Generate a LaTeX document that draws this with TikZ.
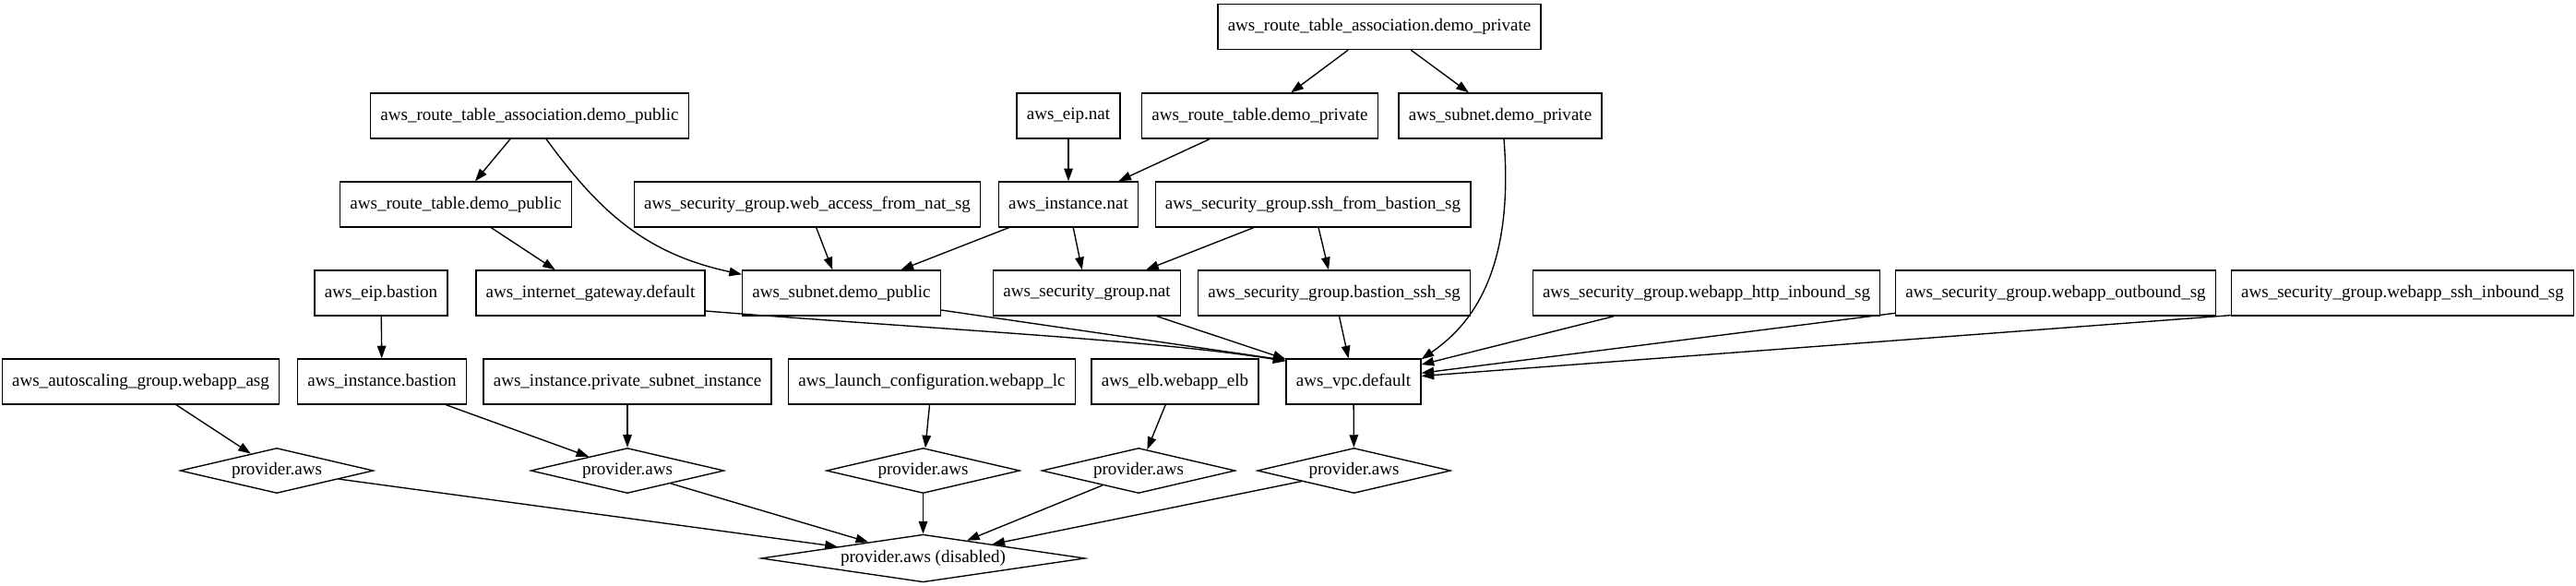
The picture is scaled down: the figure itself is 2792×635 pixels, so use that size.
\documentclass[tikz,border=0pt]{standalone}
\usepackage{fontspec}
\setmainfont{Liberation Serif}
\usetikzlibrary{shapes.geometric,arrows.meta,calc}
\begin{document}
\begin{tikzpicture}[x=0.735pt,y=0.735pt,
  box/.style={draw,line width=1pt,rectangle,minimum height=36pt,minimum width=54pt,inner xsep=7.92pt,inner ysep=0pt,font=\fontsize{14pt}{16pt}\selectfont},
  prov/.style={draw,line width=1pt,diamond,shape aspect=4.3,minimum width=154pt,minimum height=36pt,inner sep=0pt,font=\fontsize{14pt}{16pt}\selectfont},
  edge/.style={line width=1pt,-{Triangle[length=10pt,width=7pt]}}]
\useasboundingbox (0,0) rectangle (2792,-635);
% row 0
\node[box] (rta_priv) at (1495,-29) {aws\_route\_table\_association.demo\_private};
% row 1
\node[box] (rta_pub) at (574,-125.5) {aws\_route\_table\_association.demo\_public};
\node[box] (eip_nat) at (1158,-125.5) {aws\_eip.nat};
\node[box] (rt_priv) at (1365.5,-125.5) {aws\_route\_table.demo\_private};
\node[box] (subnet_priv) at (1626,-125.5) {aws\_subnet.demo\_private};
% row 2
\node[box] (rt_pub) at (494,-221.5) {aws\_route\_table.demo\_public};
\node[box] (web_access) at (875,-221.5) {aws\_security\_group.web\_access\_from\_nat\_sg};
\node[box] (inst_nat) at (1158,-221.5) {aws\_instance.nat};
\node[box] (ssh_from) at (1423,-221.5) {aws\_security\_group.ssh\_from\_bastion\_sg};
% row 3
\node[box] (eip_bastion) at (413,-317.5) {aws\_eip.bastion};
\node[box] (igw) at (640,-317.5) {aws\_internet\_gateway.default};
\node[box] (subnet_pub) at (912,-317.5) {aws\_subnet.demo\_public};
\node[box] (sg_nat) at (1178,-317.5) {aws\_security\_group.nat};
\node[box] (bastion_ssh) at (1446,-317.5) {aws\_security\_group.bastion\_ssh\_sg};
\node[box] (http_in) at (1849.5,-317.5) {aws\_security\_group.webapp\_http\_inbound\_sg};
\node[box] (outbound) at (2228,-317.5) {aws\_security\_group.webapp\_outbound\_sg};
\node[box] (ssh_in) at (2604,-317.5) {aws\_security\_group.webapp\_ssh\_inbound\_sg};
% row 4
\node[box] (asg) at (152.5,-413.5) {aws\_autoscaling\_group.webapp\_asg};
\node[box] (inst_bastion) at (414,-413.5) {aws\_instance.bastion};
\node[box] (private_inst) at (680,-413.5) {aws\_instance.private\_subnet\_instance};
\node[box] (lc) at (1010,-413.5) {aws\_launch\_configuration.webapp\_lc};
\node[box] (elb) at (1273.5,-413.5) {aws\_elb.webapp\_elb};
\node[box] (vpc) at (1467,-413.5) {aws\_vpc.default};
% row 5
\node[prov] (d1) at (300,-510) {provider.aws};
\node[prov] (d2) at (680,-510) {provider.aws};
\node[prov] (d3) at (1000.5,-510) {provider.aws};
\node[prov] (d4) at (1234,-510) {provider.aws};
\node[prov] (d5) at (1467.5,-510) {provider.aws};
% row 6
\node[prov,minimum width=258pt,minimum height=38pt,shape aspect=6.8] (dis) at (1000.5,-605) {provider.aws (disabled)};
% edges
\draw[edge] (rta_priv) -- (rt_priv);
\draw[edge] (rta_priv) -- (subnet_priv);
\draw[edge] (rta_pub) -- (rt_pub);
\draw[edge] ($(rta_pub.south)+(18,0)$) .. controls (650,-230) and (700,-275) .. ($(subnet_pub.north west)+(0,-5)$);
\draw[edge] (eip_nat) -- (inst_nat);
\draw[edge] (rt_priv) -- (inst_nat);
\draw[edge] (rt_pub) -- (igw);
\draw[edge] (web_access) -- (subnet_pub);
\draw[edge] (inst_nat) -- (subnet_pub);
\draw[edge] (inst_nat) -- (sg_nat);
\draw[edge] (ssh_from) -- (sg_nat);
\draw[edge] (ssh_from) -- (bastion_ssh);
\draw[edge] ($(subnet_priv.south)+(4,0)$) .. controls (1642,-300) and (1590,-355) .. ($(vpc.north east)+(0,-1)$);
\draw[edge] (eip_bastion) -- (inst_bastion);
\draw[edge] ($(igw.east)+(0,-19.5)$) .. controls (1000,-356) and (1250,-368) .. ($(vpc.north west)+(0,-3)$);
\draw[edge] ($(subnet_pub.east)+(0,-18.5)$) -- ($(vpc.north west)+(0,-2)$);
\draw[edge] (sg_nat) -- (vpc);
\draw[edge] (bastion_ssh) -- (vpc);
\draw[edge] (http_in) -- (vpc);
\draw[edge] (outbound) -- (vpc);
\draw[edge] ($(ssh_in.south west)+(0,1)$) -- ($(vpc.east)+(0,6)$);
\draw[edge] (asg) -- (d1);
\draw[edge] (inst_bastion) -- (d2);
\draw[edge] (private_inst) -- (d2);
\draw[edge] (lc) -- (d3);
\draw[edge] (elb) -- (d4);
\draw[edge] (vpc) -- (d5);
\draw[edge] (d1) -- (dis);
\draw[edge] (d2) -- (dis);
\draw[edge] (d3) -- (dis);
\draw[edge] (d4) -- (dis);
\draw[edge] (d5) -- (dis);
\end{tikzpicture}
\end{document}
